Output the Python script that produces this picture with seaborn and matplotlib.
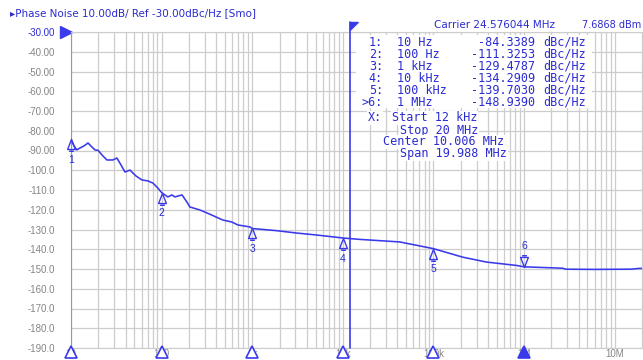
import numpy as np
import pandas as pd
import matplotlib.pyplot as plt
import seaborn as sns
from matplotlib.path import Path
from matplotlib.ticker import LogLocator, NullFormatter
from matplotlib.patches import Rectangle

# phase noise trace (Hz, dBc/Hz)
freq_hz = [10, 10.8, 11.6, 12.6, 13.9, 15.4, 17.0, 18.4, 19.9, 22.0, 24.9, 29.0, 32.1,
           35.6, 39.4, 44.7, 52.1, 60.6, 70.6, 80.2, 88.7, 100, 117, 130, 140, 168,
           189, 205, 264, 316, 474, 596, 693, 942, 1000, 1870, 3100, 5150, 10000,
           15300, 42400, 100e3, 210e3, 386e3, 826e3, 1e6, 2.65e6, 2.9e6, 6e6,
           15e6, 18.6e6, 20e6]
noise_dbc = [-84.3, -87.7, -89.7, -88.7, -87.7, -86.2, -88.2, -89.7, -89.9, -92.3, -94.8,
             -94.8, -93.8, -97.3, -100.9, -99.9, -102.9, -104.9, -105.4, -106.5, -108.5,
             -111.3, -113.5, -112.5, -113.5, -112.5, -115.9, -118.6, -120.1, -121.6,
             -125.2, -126.2, -127.7, -128.7, -129.5, -130.6, -131.8, -132.8, -134.3,
             -135.0, -136.3, -139.7, -144.0, -146.5, -148.2, -148.9, -149.6, -150.1,
             -150.2, -150.1, -149.7, -149.7]

marker_ids = ['1', '2', '3', '4', '5', '6']
marker_freq = [10, 100, 1e3, 1e4, 1e5, 1e6]
marker_dbc = [-84.3389, -111.3253, -129.4787, -134.2909, -139.7030, -148.9390]
marker_rows = ['1:', '2:', '3:', '4:', '5:', '>6:']
marker_freq_txt = ['10 Hz', '100 Hz', '1 kHz', '10 kHz', '100 kHz', '1 MHz']
marker_val_txt = ['-84.3389', '-111.3253', '-129.4787', '-134.2909', '-139.7030', '-148.9390']

y_ticks = list(range(-30, -191, -10))
y_labels = ['-30.00', '-40.00', '-50.00', '-60.00', '-70.00', '-80.00', '-90.00',
            '-100.0', '-110.0', '-120.0', '-130.0', '-140.0', '-150.0', '-160.0',
            '-170.0', '-180.0', '-190.0']
x_ticks = [10, 100, 1e3, 1e4, 1e5, 1e6, 1e7]
x_labels = ['10', '100', '1k', '10k', '100k', '1M', '10M']

integ_start = 12e3

W, H = 643, 360
BLUE = '#3a3aea'
TXT = '#2b2bd2'
GRID = '#cdcdcd'
GRAY = '#858585'

sns.set_style('white')
plt.rcParams['font.family'] = ['Liberation Sans', 'DejaVu Sans']

fig = plt.figure(figsize=(W / 100, H / 100), dpi=100)
ax = fig.add_axes([71 / W, 1 - 348 / H, (642 - 71) / W, (348 - 32) / H])

df = pd.DataFrame({'freq': freq_hz, 'dbc': noise_dbc})
sns.lineplot(data=df, x='freq', y='dbc', ax=ax, color=BLUE, lw=1.15, zorder=3)
ax.set_xscale('log')
ax.set_xlim(10, 2e7)
ax.set_ylim(-190, -30)
ax.set_xticks(x_ticks)
ax.set_xticklabels(x_labels)
ax.xaxis.set_minor_locator(LogLocator(base=10, subs=np.arange(2, 10), numticks=30))
ax.xaxis.set_minor_formatter(NullFormatter())
ax.set_yticks(y_ticks)
ax.set_yticklabels(y_labels)
ax.set_xlabel('')
ax.set_ylabel('')
ax.grid(which='both', color=GRID, lw=0.9)
ax.set_axisbelow(True)
ax.tick_params(which='both', length=0, labelsize=7, labelcolor=GRAY)
ax.tick_params(axis='y', pad=11.5)
ax.tick_params(axis='x', pad=1)
ax.get_yticklabels()[0].set_color(TXT)
for s in ['top', 'right', 'bottom']:
    ax.spines[s].set_color(GRID)
ax.spines['left'].set_color('#9a9a9a')

# integration start line + flag
trans = ax.get_xaxis_transform()
ax.plot([integ_start, integ_start], [0, 1.032], transform=trans, color=BLUE, lw=1.2,
        clip_on=False, zorder=4)
flag = Path([(0, 0), (1, 0), (0, -1), (0, 0)],
            [Path.MOVETO, Path.LINETO, Path.LINETO, Path.CLOSEPOLY])
ax.plot([integ_start], [1.032], marker=flag, ms=11, color=BLUE, transform=trans,
        clip_on=False, ls='none', zorder=4)

# reference level arrow
ax.plot([-0.009], [1.0], marker='>', ms=8, color=BLUE, transform=ax.transAxes,
        clip_on=False, ls='none')

# markers on trace
up = Path([(0, 0), (-0.33, -0.85), (0.33, -0.85), (0, 0), (-0.2, -1), (0.2, -1)],
          [Path.MOVETO, Path.LINETO, Path.LINETO, Path.CLOSEPOLY, Path.MOVETO, Path.LINETO])
down = Path([(0, 0), (-0.33, 0.85), (0.33, 0.85), (0, 0), (-0.2, 1), (0.2, 1)],
            [Path.MOVETO, Path.LINETO, Path.LINETO, Path.CLOSEPOLY, Path.MOVETO, Path.LINETO])
for i, (f, v, m) in enumerate(zip(marker_freq, marker_dbc, marker_ids)):
    active = i == len(marker_ids) - 1
    ax.plot([f], [v], marker=down if active else up, ms=17, mfc='none', mec=BLUE,
            mew=1, ls='none', zorder=5, clip_on=False)
    ax.annotate(m, (f, v), xytext=(0, 15 if active else -15), textcoords='offset points',
                ha='center', va='center', color=TXT, fontsize=7.5)

# marker positions on the x axis
ax.plot(marker_freq[:-1], [-0.013] * 5, marker='^', ms=8.5, mfc='white', mec=BLUE, mew=1.2,
        transform=trans, clip_on=False, ls='none', zorder=6)
ax.plot(marker_freq[-1:], [-0.013], marker='^', ms=8.5, mfc=BLUE, mec=BLUE, mew=1.2,
        transform=trans, clip_on=False, ls='none', zorder=6)

# header texts
fig.text(10 / W, 1 - 13 / H, '\u25b8Phase Noise 10.00dB/ Ref -30.00dBc/Hz [Smo]',
         color=TXT, fontsize=7.5, va='center', family=['DejaVu Sans'])
fig.text(434 / W, 1 - 25 / H, 'Carrier 24.576044 MHz', color=TXT, fontsize=7.5,
         va='center', family=['DejaVu Sans'])
fig.text(582 / W, 1 - 25 / H, '7.6868 dBm', color=TXT, fontsize=7, va='center',
         family=['DejaVu Sans'])

# marker table
fig.add_artist(Rectangle((356 / W, 1 - 108 / H), (592 - 356) / W, (108 - 35) / H,
                         transform=fig.transFigure, facecolor='white', edgecolor='none',
                         zorder=1))
mono = dict(color=TXT, fontsize=8.5, va='center', family=['DejaVu Sans Mono'], zorder=3)
row_y = [42, 54, 66, 78, 90, 102]
for y, r, ft, vt in zip(row_y, marker_rows, marker_freq_txt, marker_val_txt):
    fig.text(383 / W, 1 - y / H, r, ha='right', **mono)
    fig.text(397 / W, 1 - y / H, ft, ha='left', **mono)
    fig.text(535 / W, 1 - y / H, vt, ha='right', **mono)
    fig.text(543 / W, 1 - y / H, 'dBc/Hz', ha='left', **mono)

box = dict(facecolor='white', edgecolor='none', pad=0.5)
fig.text(368 / W, 1 - 118 / H, 'X:', ha='left', bbox=box, **mono)
fig.text(392 / W, 1 - 118 / H, 'Start 12 kHz', ha='left', bbox=box, **mono)
fig.text(400 / W, 1 - 130 / H, 'Stop 20 MHz', ha='left', bbox=box, **mono)
fig.text(383 / W, 1 - 142 / H, 'Center 10.006 MHz', ha='left', bbox=box, **mono)
fig.text(400 / W, 1 - 154 / H, 'Span 19.988 MHz', ha='left', bbox=box, **mono)

fig.savefig('out.png', dpi=100)
